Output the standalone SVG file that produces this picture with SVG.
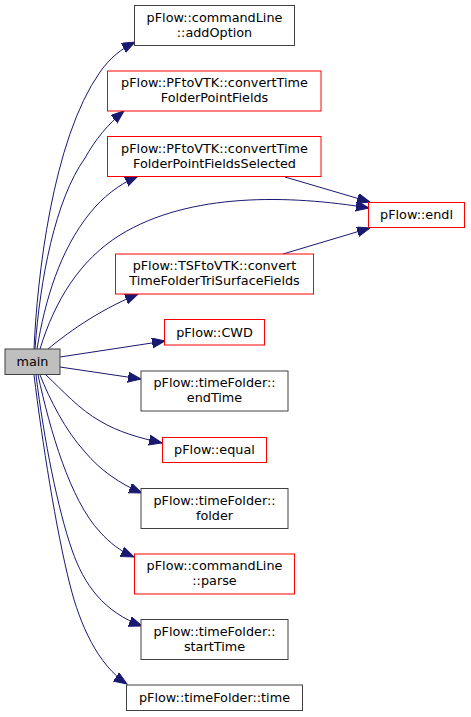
<svg xmlns="http://www.w3.org/2000/svg" width="471" height="717" viewBox="0 0 471 717">
<style>
.n rect{fill:#fff;stroke:#404040;stroke-width:1}
.r rect{stroke:#ff0000}
.m rect{fill:#bfbfbf}
text{font-family:"DejaVu Sans",sans-serif;font-size:12.8px;text-anchor:middle;fill:#000}
.e path{fill:none;stroke:#191970;stroke-width:1}
</style>
<defs>
<marker id="a" markerUnits="userSpaceOnUse" markerWidth="16" markerHeight="12" refX="13" refY="5" orient="auto" viewBox="0 0 16 12">
<path d="M0,0 L13,5 L0,10 z" fill="#191970" stroke="#191970"/>
</marker>
</defs>
<g class="e" id="edges">
<path marker-end="url(#a)" d="M34,349 C37,280 52,140 100,72 C110,58 121,49 135,42"/>
<path marker-end="url(#a)" d="M35,349 C40,280 55,200 85,158 C95,140 108,124 124,111"/>
<path marker-end="url(#a)" d="M37,349 C45,300 60,250 90,213 C103,197 118,185 138,176"/>
<path marker-end="url(#a)" d="M40,349 C55,300 80,260 120,235 C190,192 290,195 369,208"/>
<path marker-end="url(#a)" d="M285,177 L370,202"/>
<path marker-end="url(#a)" d="M283,254 L370,228"/>
<path marker-end="url(#a)" d="M48,349 C65,335 95,312 138,294"/>
<path marker-end="url(#a)" d="M60,357 L165,341"/>
<path marker-end="url(#a)" d="M60,367 L141,379"/>
<path marker-end="url(#a)" d="M46,375 C62,390 80,410 100,421 C118,432 140,438 162,443"/>
<path marker-end="url(#a)" d="M40,375 C50,400 65,430 85,452 C100,470 120,484 142,493"/>
<path marker-end="url(#a)" d="M38,375 C50,430 70,500 100,532 C110,543 120,551 134,557"/>
<path marker-end="url(#a)" d="M36,375 C44,440 58,510 72,550 C84,585 104,612 142,626"/>
<path marker-end="url(#a)" d="M34,375 C42,440 56,530 70,585 C80,625 98,665 127,684"/>
</g>
<g class="n" id="addOption"><rect x="134.5" y="5.5" width="160" height="40"/><text x="214.5" y="21.5">pFlow::commandLine</text><text x="214.5" y="36.5">::addOption</text></g>
<g class="n r" id="convertTimeFolderPointFields"><rect x="107.5" y="71" width="213.5" height="40"/><text x="214.5" y="87">pFlow::PFtoVTK::convertTime</text><text x="214.5" y="102">FolderPointFields</text></g>
<g class="n r" id="convertTimeFolderPointFieldsSelected"><rect x="107.5" y="136.5" width="213.5" height="40"/><text x="214.5" y="152.5">pFlow::PFtoVTK::convertTime</text><text x="214.5" y="167.5">FolderPointFieldsSelected</text></g>
<g class="n r" id="endl"><rect x="368.5" y="202.5" width="96" height="25"/><text x="416.5" y="219">pFlow::endl</text></g>
<g class="n r" id="convertTimeFolderTriSurfaceFields"><rect x="115.5" y="254" width="198" height="40"/><text x="214.5" y="270">pFlow::TSFtoVTK::convert</text><text x="214.5" y="285">TimeFolderTriSurfaceFields</text></g>
<g class="n r" id="CWD"><rect x="164.5" y="319.5" width="100" height="25.5"/><text x="214.5" y="336.5">pFlow::CWD</text></g>
<g class="n m" id="main"><rect x="5" y="349" width="55" height="25.5"/><text x="32.5" y="366">main</text></g>
<g class="n" id="endTime"><rect x="141" y="371" width="147" height="40"/><text x="214.5" y="387">pFlow::timeFolder::</text><text x="214.5" y="402">endTime</text></g>
<g class="n r" id="equal"><rect x="162.5" y="437.5" width="104" height="25"/><text x="214.5" y="454">pFlow::equal</text></g>
<g class="n" id="folder"><rect x="141" y="488.5" width="147" height="40"/><text x="214.5" y="504.5">pFlow::timeFolder::</text><text x="214.5" y="519.5">folder</text></g>
<g class="n r" id="parse"><rect x="134.5" y="554" width="160" height="40"/><text x="214.5" y="570">pFlow::commandLine</text><text x="214.5" y="585">::parse</text></g>
<g class="n" id="startTime"><rect x="141" y="619.5" width="147" height="40"/><text x="214.5" y="635.5">pFlow::timeFolder::</text><text x="214.5" y="650.5">startTime</text></g>
<g class="n" id="time"><rect x="126.5" y="685" width="176" height="25.5"/><text x="214.5" y="702">pFlow::timeFolder::time</text></g>
</svg>
